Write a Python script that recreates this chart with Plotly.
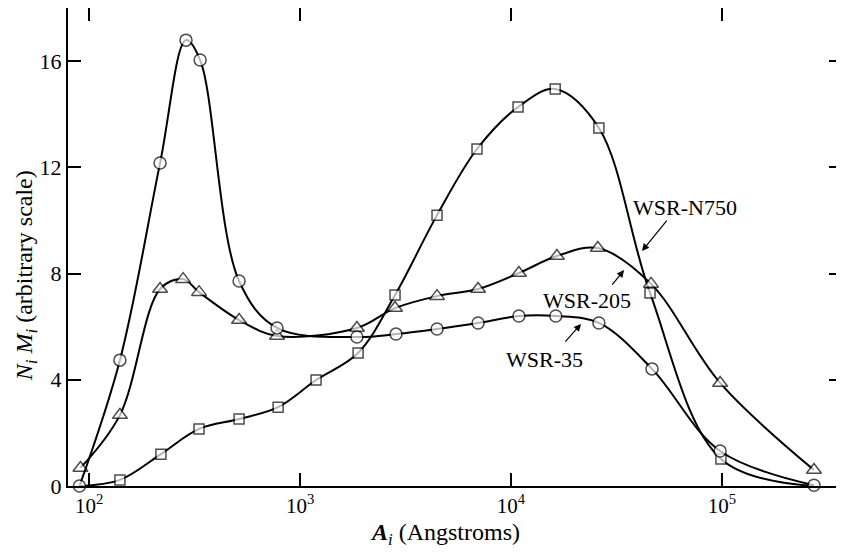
import plotly.graph_objects as go

# WSR-35 (circles)
A_35 = [90, 140, 217, 288, 336, 514, 778, 1860, 2850, 4460, 6980, 10900, 16300, 26100, 46600, 98000, 273000]
N_35 = [0.0, 4.74, 12.16, 16.79, 16.04, 7.72, 5.95, 5.61, 5.72, 5.91, 6.14, 6.40, 6.40, 6.14, 4.41, 1.32, 0.03]

# WSR-205 (triangles)
A_205 = [91, 140, 217, 279, 332, 514, 778, 1860, 2820, 4460, 6980, 10900, 16500, 25800, 46100, 98000, 273000]
N_205 = [0.68, 2.67, 7.42, 7.79, 7.30, 6.25, 5.65, 5.95, 6.70, 7.15, 7.42, 8.02, 8.66, 8.96, 7.61, 3.88, 0.60]

# WSR-N750 (squares)
A_750 = [90, 140, 219, 332, 514, 787, 1191, 1884, 2820, 4460, 6900, 10800, 16200, 26100, 45600, 98900, 273000]
N_750 = [0.0, 0.23, 1.20, 2.15, 2.52, 2.97, 3.99, 5.01, 7.19, 10.20, 12.69, 14.27, 14.95, 13.48, 7.27, 1.02, 0.0]

x_tickvals = [1e2, 1e3, 1e4, 1e5]
x_ticktext = ["10<sup>2</sup>", "10<sup>3</sup>", "10<sup>4</sup>", "10<sup>5</sup>"]
y_tickvals = [0, 4, 8, 12, 16]

FONT = "Liberation Serif, Times New Roman, serif"

fig = go.Figure()

def add_series(x, y, symbol, size, hide_first=False, hide_last=False):
    sizes = [size] * len(x)
    if hide_first:
        sizes[0] = 0
    if hide_last:
        sizes[-1] = 0
    fig.add_trace(go.Scatter(
        x=x, y=y, mode="lines+markers",
        line=dict(color="black", width=2, shape="spline", smoothing=1.0),
        marker=dict(symbol=symbol, size=sizes, color="white",
                    line=dict(color="black", width=1.5)),
        showlegend=False, cliponaxis=False,
    ))

add_series(A_750, N_750, "square", 10, hide_first=True, hide_last=True)
add_series(A_205, N_205, "triangle-up", 13)
add_series(A_35, N_35, "circle", 12)

# labels
labels = [
    ("WSR-N750", 4.825, 10.50),
    ("WSR-205", 4.360, 7.00),
    ("WSR-35", 4.161, 4.78),
]
for t, lx, ly in labels:
    fig.add_annotation(x=lx, y=ly, xref="x", yref="y", text=t, showarrow=False,
                       font=dict(family=FONT, size=22, color="black"))

arrows = [
    (4.621, 8.85, 4.744, 10.05),
    (4.536, 8.13, 4.474, 7.53),
    (4.332, 6.10, 4.251, 5.38),
]
for hx, hy, tx, ty in arrows:
    fig.add_annotation(x=hx, y=hy, ax=tx, ay=ty, xref="x", yref="y", axref="x", ayref="y",
                       text="", showarrow=True, arrowhead=2, arrowsize=1.2, arrowwidth=1.2,
                       arrowcolor="black")

# axis titles
fig.add_annotation(x=0.487, y=0, xref="paper", yref="paper", yshift=-48,
                   text="<i><b>A</b></i><sub><i>i</i></sub> (Angstroms)", showarrow=False,
                   xanchor="center", yanchor="middle",
                   font=dict(family=FONT, size=24, color="black"))
fig.add_annotation(x=0, y=0.439, xref="paper", yref="paper", xshift=-42,
                   text="<i>N</i><sub><i>i</i></sub> <i>M</i><sub><i>i</i></sub> (arbitrary scale)",
                   showarrow=False, textangle=-90, xanchor="center", yanchor="middle",
                   font=dict(family=FONT, size=24, color="black"))

# page body has an 8px default margin, so the figure is sized to fit inside the window
fig.update_layout(
    width=836, height=544,
    margin=dict(l=60, r=2, t=0, b=66, autoexpand=False),
    paper_bgcolor="white", plot_bgcolor="white",
    font=dict(family=FONT, size=20, color="black"),
    xaxis=dict(
        type="log", range=[1.900, 5.569], automargin=False,
        tickvals=x_tickvals, ticktext=x_ticktext,
        ticks="inside", ticklen=13, tickwidth=1.5, tickcolor="black",
        showline=True, linecolor="black", linewidth=2, mirror="allticks",
        showgrid=False, zeroline=False,
        tickfont=dict(family=FONT, size=21),
    ),
    yaxis=dict(
        range=[0, 18], automargin=False,
        tickvals=y_tickvals,
        ticks="inside", ticklen=13, tickwidth=1.5, tickcolor="black",
        showline=True, linecolor="black", linewidth=2, mirror="allticks",
        showgrid=False, zeroline=False,
        tickfont=dict(family=FONT, size=22),
    ),
)

fig.write_html("out.html")
